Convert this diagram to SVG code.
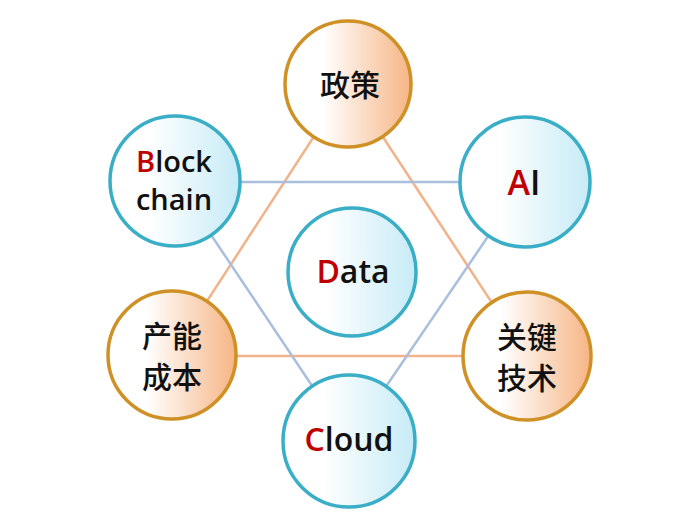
<svg xmlns="http://www.w3.org/2000/svg" width="700" height="530" viewBox="0 0 700 530">
<defs>
<linearGradient id="gb" x1="0" y1="0" x2="1" y2="0">
<stop offset="0.3" stop-color="#ffffff"/>
<stop offset="1" stop-color="#c6ebf6"/>
</linearGradient>
<linearGradient id="go" x1="0" y1="0" x2="1" y2="0">
<stop offset="0.3" stop-color="#ffffff"/>
<stop offset="1" stop-color="#f6b585"/>
</linearGradient>
<style>
.b{fill:url(#gb);stroke:#3aaec6;stroke-width:3.5}
.o{fill:url(#go);stroke:#cf9125;stroke-width:3.5}
.t{font-family:"Open Sans","Noto Sans CJK SC",sans-serif;font-weight:600;fill:#111;text-anchor:middle}
.c{font-family:"Noto Sans CJK SC",sans-serif;font-weight:500;fill:#111;text-anchor:middle;font-size:30px}
.r{fill:#c00000}
.lb{stroke:#a9bfdd;stroke-width:2.5;fill:none}
.lo{stroke:#f2b28a;stroke-width:2.5;fill:none}
</style>
</defs>
<rect width="700" height="530" fill="#ffffff"/>
<g id="connectors">
<line class="lo" x1="348" y1="84" x2="172" y2="355"/>
<line class="lo" x1="348" y1="84" x2="527" y2="356"/>
<line class="lo" x1="172" y1="356" x2="527" y2="356"/>
<line class="lb" x1="175" y1="182" x2="525" y2="182"/>
<line class="lb" x1="175" y1="181" x2="349" y2="441"/>
<line class="lb" x1="525" y1="182" x2="349" y2="441"/>
</g>
<g id="zhengce">
<circle class="o" cx="348" cy="84" r="63"/>
<text class="c" x="350" y="96">政策</text>
</g>
<g id="blockchain">
<circle class="b" cx="175" cy="181" r="65"/>
<text class="t" x="174" y="172" font-size="29">
<tspan class="r">B</tspan>lock</text>
<text class="t" x="174" y="210" font-size="29">chain</text>
</g>
<g id="ai">
<circle class="b" cx="525" cy="182" r="65"/>
<text class="t" x="524" y="195" font-size="34"><tspan class="r">A</tspan>I</text>
</g>
<g id="data">
<circle class="b" cx="352" cy="272" r="64"/>
<text class="t" x="353" y="283" font-size="32"><tspan class="r">D</tspan>ata</text>
</g>
<g id="channeng">
<circle class="o" cx="172" cy="355" r="64"/>
<text class="c" x="172" y="347">产能</text>
<text class="c" x="172" y="388">成本</text>
</g>
<g id="guanjian">
<circle class="o" cx="527" cy="356" r="64"/>
<text class="c" x="527" y="348">关键</text>
<text class="c" x="527" y="389">技术</text>
</g>
<g id="cloud">
<circle class="b" cx="349" cy="441" r="66"/>
<text class="t" x="349" y="451" font-size="32"><tspan class="r">C</tspan>loud</text>
</g>
</svg>
